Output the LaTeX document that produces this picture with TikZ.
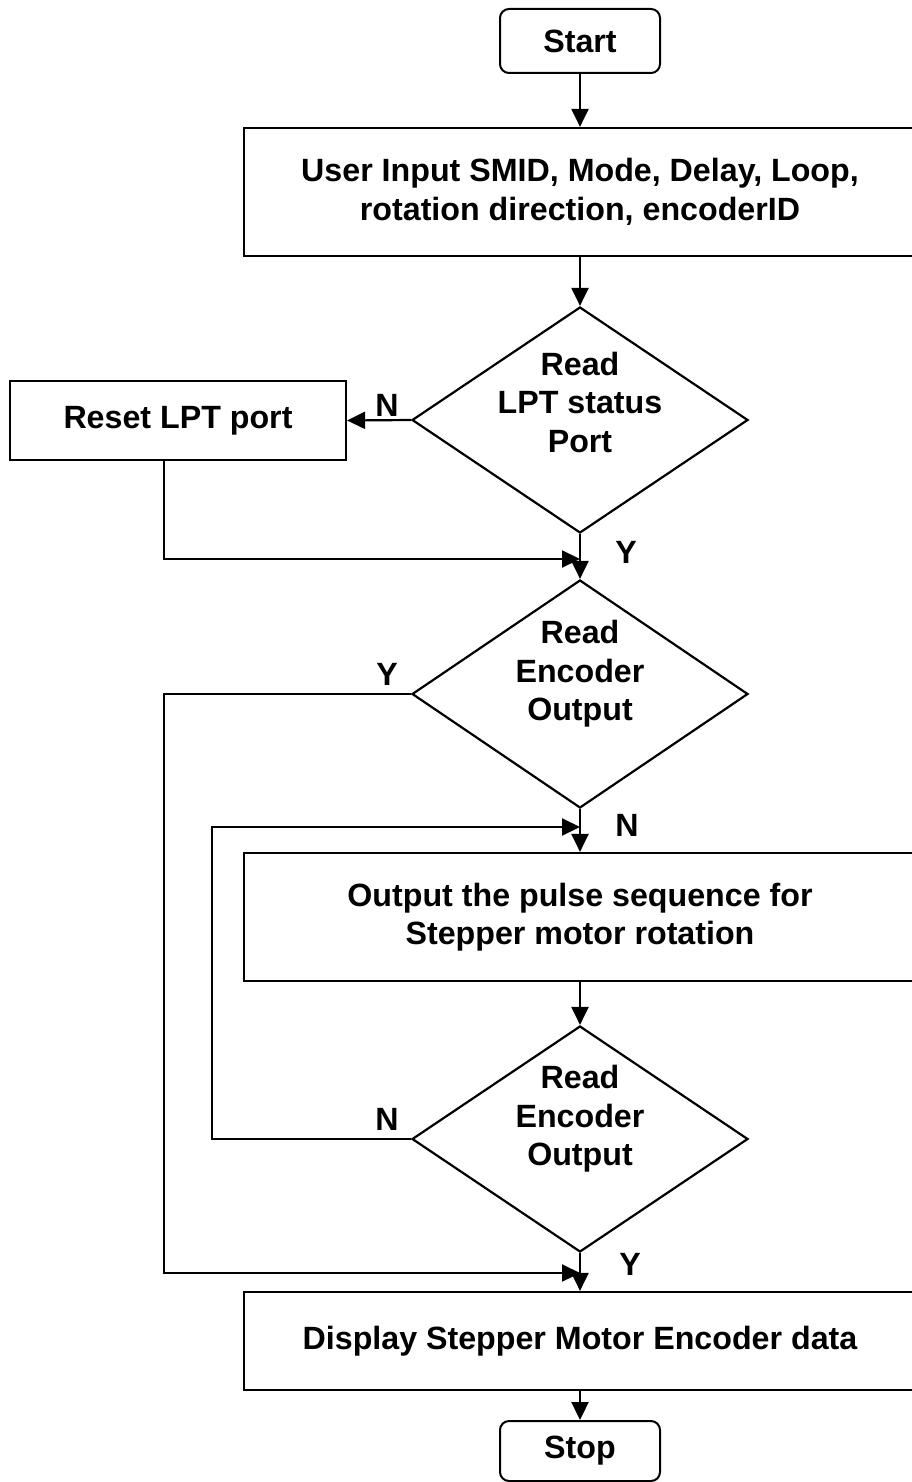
\documentclass[tikz,border=0pt]{standalone}
\usepackage{fontspec}
\setmainfont{Liberation Sans}
\usetikzlibrary{shapes.geometric,arrows.meta}
\begin{document}
\begin{tikzpicture}[x=1pt,y=-1pt,
  every node/.style={font=\fontsize{32.2}{38.5}\selectfont\bfseries, inner sep=0pt},
  arr/.style={line width=2.2pt,-{Triangle[length=18pt,width=17pt]}},
  procbox/.style={draw, line width=2.2pt, rectangle, align=center},
  termbox/.style={draw, line width=2pt, rectangle, rounded corners=9pt, align=center},
  decbox/.style={draw, line width=2.2pt, diamond, minimum width=336pt},
  txt/.style={align=center},
  lbl/.style={}
]
\useasboundingbox (0,0) rectangle (911,1482);

\node[termbox, minimum width=160pt, minimum height=64pt] (start) at (580,41) {Start};
\node[procbox, minimum width=672pt, minimum height=128pt] (in1) at (580,192) {User Input SMID, Mode, Delay, Loop,\\rotation direction, encoderID};
\node[decbox, minimum height=226pt] (d1) at (580,420) {};
\node[txt] (d1t) at (580,402) {Read\\LPT status\\Port};
\node[procbox, minimum width=336pt, minimum height=79pt] (reset) at (178,420.5) {Reset LPT port};
\node[decbox, minimum height=228pt] (d2) at (580,694) {};
\node[txt] (d2t) at (580,674) {Read\\Encoder\\Output};
\node[procbox, minimum width=672pt, minimum height=128pt] (out) at (580,917) {Output the pulse sequence for\\Stepper motor rotation};
\node[decbox, minimum height=226pt] (d3) at (580,1139) {};
\node[txt] (d3t) at (580,1119) {Read\\Encoder\\Output};
\node[procbox, minimum width=672pt, minimum height=98pt] (disp) at (580,1341) {Display Stepper Motor Encoder data};
\node[termbox, minimum width=160pt, minimum height=60pt] (stop) at (580,1451) {Stop};

\coordinate (j1) at (580,559);
\coordinate (j2) at (580,827);
\coordinate (j3) at (580,1273);
\coordinate (rs) at (164,460.5);

\draw[arr] (start.south) -- (in1.north);
\draw[arr] (in1.south) -- (d1.north);
\draw[arr] (d1.west) -- (reset.east);
\draw[arr] (rs) |- (j1);
\draw[arr] (d1.south) -- (d2.north);
\draw[arr] (d2.west) -- (164,694) |- (j3);
\draw[arr] (d2.south) -- (out.north);
\draw[arr] (d3.west) -- (212,1139) |- (j2);
\draw[arr] (out.south) -- (d3.north);
\draw[arr] (d3.south) -- (disp.north);
\draw[arr] (disp.south) -- (stop.north);

\node[lbl] (n1) at (387,405) {N};
\node[lbl] (y1) at (626,552) {Y};
\node[lbl] (y2) at (387,674) {Y};
\node[lbl] (n2) at (627,825) {N};
\node[lbl] (n3) at (387,1119) {N};
\node[lbl] (y3) at (630,1264) {Y};
\end{tikzpicture}
\end{document}
